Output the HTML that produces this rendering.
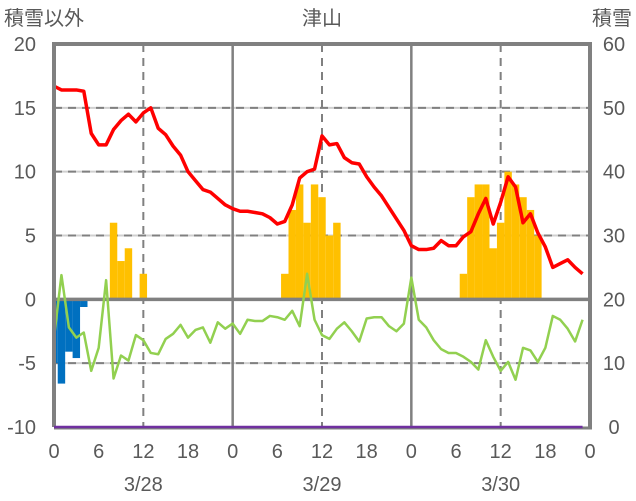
<!DOCTYPE html>
<html><head><meta charset="utf-8"><style>
html,body{margin:0;padding:0;background:#fff;}
svg{display:block;font-family:"Liberation Sans","Noto Sans CJK JP",sans-serif;}
</style></head><body>
<svg id="chart" width="636" height="501" viewBox="0 0 636 501" xmlns="http://www.w3.org/2000/svg"></svg>
<script>
const hours = Array.from({length:72},(_,i)=>i);
const tempSeries = [16.7,16.4,16.4,16.4,16.3,13.0,12.1,12.1,13.3,14.0,14.5,13.9,14.6,15.0,13.4,12.9,12.0,11.3,10.0,9.3,8.6,8.4,7.9,7.4,
7.1,6.9,6.9,6.8,6.7,6.4,5.9,6.1,7.4,9.5,10.0,10.2,12.8,12.1,12.2,11.1,10.7,10.6,9.6,8.8,8.1,7.2,6.3,5.4,
4.2,3.9,3.9,4.0,4.6,4.2,4.2,4.9,5.3,6.7,7.9,5.9,7.6,9.6,8.8,6.0,6.7,5.2,4.1,2.5,2.8,3.1,2.5,2.0];
const greenSeries = [-3.0,1.9,-2.2,-3.0,-2.6,-5.6,-3.8,1.5,-6.2,-4.4,-4.8,-2.8,-3.2,-4.2,-4.3,-3.1,-2.7,-2.0,-3.0,-2.4,-2.2,-3.4,-1.8,-2.3,
-1.9,-2.7,-1.6,-1.7,-1.7,-1.3,-1.4,-1.6,-0.9,-2.1,2.0,-1.6,-2.8,-3.1,-2.3,-1.8,-2.5,-3.3,-1.5,-1.4,-1.4,-2.1,-2.5,-1.9,
1.7,-1.6,-2.2,-3.2,-3.9,-4.2,-4.2,-4.5,-4.9,-5.5,-3.2,-4.5,-5.6,-4.9,-6.3,-3.8,-4.0,-4.9,-3.8,-1.3,-1.6,-2.3,-3.3,-1.6];
const yellowHours = [8,9,10,12,31,32,33,34,35,36,37,38,55,56,57,58,59,60,61,62,63,64,65];
const yellowValues = [6,3,4,2,2,7,9,6,9,8,5,6,2,8,9,9,4,6,10,9,8,7,5];
const blueHours = [0,1,2,3,4];
const blueValues = [-5.0,-6.6,-4.1,-4.6,-0.6];
const depthSeries = new Array(72).fill(0);
const leftTicks = [20,15,10,5,0,-5,-10];
const rightTicks = [60,50,40,30,20,10,0];
const xTickLabels = ['0','6','12','18','0','6','12','18','0','6','12','18','0'];
const dayLabels = ['3/28','3/29','3/30'];

const X0=54, X1=590, YT=44, YB=427;
const x = h => X0 + (X1-X0)*h/72;
const yL = v => YB - (v+10)*(YB-YT)/30;
const yR = v => YB - v*(YB-YT)/60;
const svg = document.getElementById('chart');
const NS='http://www.w3.org/2000/svg';
function mk(tag, attrs, parent){const e=document.createElementNS(NS,tag);for(const k in attrs)e.setAttribute(k,attrs[k]);(parent||svg).appendChild(e);return e;}

// grid
const grid = mk('g',{});


[15,10,5,-5].forEach(v=>{mk('line',{x1:X0,x2:X1,y1:yL(v),y2:yL(v),stroke:'#d0d0d0','stroke-width':2},grid);
 mk('line',{x1:X0,x2:X1,y1:yL(v),y2:yL(v),stroke:'#808080','stroke-width':2,'stroke-dasharray':'8,6'},grid);});
[12,36,60].forEach(h=>mk('line',{x1:x(h),x2:x(h),y1:YT,y2:YB,stroke:'#808080','stroke-width':2,'stroke-dasharray':'8,6'},grid));
[24,48].forEach(h=>mk('line',{x1:x(h),x2:x(h),y1:YT,y2:YB,stroke:'#808080','stroke-width':2.5},grid));

// bars
yellowHours.forEach((h,i)=>{const b=mk('rect',{x:x(h-0.5),y:yL(yellowValues[i]),width:x(1)-x(0),height:yL(0)-yL(yellowValues[i]),fill:'#ffc000'});
 
 });
blueHours.forEach((h,i)=>{const x0=Math.max(X0,x(h-0.5));const b=mk('rect',{x:x0,y:yL(0),width:x(h+0.5)-x0,height:yL(blueValues[i])-yL(0),fill:'#0070c0'});
 
 });

// zero axis
mk('line',{x1:X0,x2:X1,y1:yL(0),y2:yL(0),stroke:'#808080','stroke-width':3.5});

// lines
function poly(vals,fn,color,w,name){const p=mk('polyline',{points:vals.map((v,i)=>x(hours[i])+','+fn(v)).join(' '),fill:'none',stroke:color,'stroke-width':w,'stroke-linejoin':'round'});
 
 }
poly(greenSeries,yL,'#92d050',2.5,'green-series-line');
poly(tempSeries,yL,'#ff0000',3.5,'red-series-line');

// frame
mk('polyline',{points:`${X0},${YB} ${X0},${YT} ${X1},${YT} ${X1},${YB}`,fill:'none',stroke:'#808080','stroke-width':4});
mk('line',{x1:X0,x2:X1+2,y1:YB+1,y2:YB+1,stroke:'#808080','stroke-width':3});
poly(depthSeries.concat([0]),yR,'#7030a0',2.5,'snow-depth-line');

// text
function txt(s,xx,yy,anchor,name,size){const t=mk('text',{x:xx,y:yy,'text-anchor':anchor,'font-size':size||20,fill:'#595959'});t.textContent=s;
 
 return t;}
leftTicks.forEach(v=>txt(String(v),36,yL(v)+7,'end','left-tick-label'));
rightTicks.forEach(v=>txt(String(v),614,yR(v)+7,'middle','right-tick-label'));
xTickLabels.forEach((s,i)=>txt(s,x(i*6),458,'middle','x-tick-label'));
dayLabels.forEach((s,i)=>txt(s,x(12+24*i),491,'middle','day-label'));
txt('積雪以外',4,25,'start','left-axis-title');
txt('津山',322,25,'middle','chart-title');
txt('積雪',632,25,'end','right-axis-title');
</script>
</body></html>
